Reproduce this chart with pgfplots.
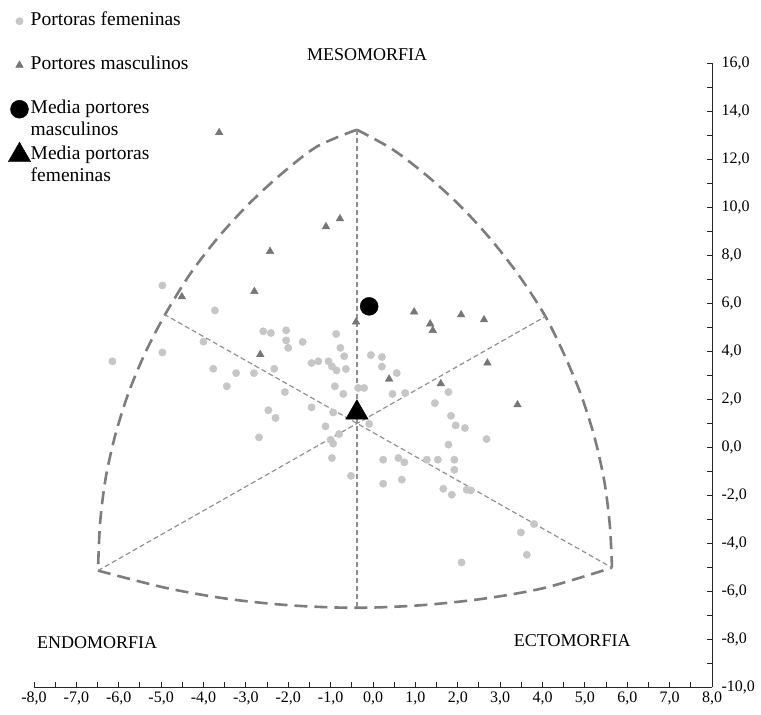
\documentclass[border=0pt]{standalone}
\usepackage{fontspec}
\setmainfont{Liberation Serif}
\usepackage{pgfplots}
\pgfplotsset{compat=1.18}
\definecolor{fem}{RGB}{198,198,198}
\definecolor{masc}{RGB}{118,118,118}
\definecolor{arcc}{RGB}{125,125,125}
\definecolor{thinc}{RGB}{145,145,145}
\pgfplotsset{mylegimg/.style={legend image code/.code={\draw[##1] plot coordinates {(0pt,0pt)};}}}
\begin{document}
\begin{tikzpicture}
\useasboundingbox (-34pt,-28pt) rectangle (727pt,687pt);
\begin{axis}[
  width=678pt, height=624pt, scale only axis,
  xmin=-8, xmax=8, ymin=-10, ymax=16,
  axis x line*=bottom, axis y line*=right,
  axis line style={black!85, line width=0.9pt},
  xtick={-8,-7,...,8}, minor x tick num=1,
  ytick={-10,-8,...,16}, minor y tick num=1,
  tick align=inside,
  major tick length=5pt, minor tick length=5pt,
  tick style={black!85, line width=0.9pt},
  tick label style={font=\fontsize{16}{19}\selectfont},
  /pgf/number format/assume math mode=true,
  /pgf/number format/.cd, fixed, fixed zerofill, precision=1, use comma,
  /pgfplots/.cd,
  yticklabel style={xshift=6pt},
  xticklabel style={yshift=-1pt},
  clip=false,
  legend style={at={(-0.0383,1.0849)}, anchor=north west, draw=none, fill=none,
    inner sep=0pt, row sep=0pt, column sep=0pt,
    font=\fontsize{19.5}{22}\selectfont,
    nodes={inner sep=0pt, text height=15pt, text depth=7pt}},
  legend cell align=left,
]
% somatochart frame
\addplot[forget plot, arcc, line width=2.6pt, dash pattern=on 13pt off 7pt, smooth] coordinates {
(-0.38,13.22) (-1.32,12.52) (-2.16,11.38) (-2.94,10.11) (-3.65,8.74) (-4.30,7.25) (-4.88,5.60) (-5.35,4.02) (-5.76,2.30) (-6.08,0.51) (-6.31,-1.31) (-6.44,-3.16) (-6.49,-5.15)};
\addplot[forget plot, arcc, line width=2.6pt, dash pattern=on 13pt off 7pt, smooth] coordinates {
(-0.38,13.22) (0.47,12.39) (1.31,11.25) (2.09,9.99) (2.80,8.61) (3.45,7.13) (4.05,5.50) (4.50,3.90) (4.91,2.17) (5.23,0.39) (5.46,-1.44) (5.59,-3.29) (5.64,-5.03)};
\addplot[forget plot, arcc, line width=2.6pt, dash pattern=on 13pt off 7pt, smooth] coordinates {
(-6.49,-5.15) (-4.89,-5.87) (-3.42,-6.33) (-1.93,-6.60) (-0.42,-6.70) (1.08,-6.60) (2.57,-6.33) (4.05,-5.87) (5.64,-5.03)};
\addplot[forget plot, color=thinc, line width=1.2pt, dash pattern=on 5pt off 3pt] coordinates {(-0.38,13.22) (-0.38,-6.70)};
\addplot[forget plot, color=thinc, line width=1.2pt, dash pattern=on 5pt off 3pt] coordinates {(-6.49,-5.15) (4.08,5.45)};
\addplot[forget plot, color=thinc, line width=1.2pt, dash pattern=on 5pt off 3pt] coordinates {(-4.93,5.53) (5.64,-5.03)};
% Portoras femeninas
\addplot[only marks, mark=*, mark size=3.7pt, color=fem, mylegimg] coordinates {
(-4.97,6.73) (-6.15,3.57) (-4.97,3.94) (-3.73,5.69) (-4.00,4.39) (-2.59,4.82) (-2.41,4.75) (-2.33,3.26)
(-3.77,3.26) (-3.23,3.08) (-2.81,3.08) (-3.45,2.53) (-2.47,1.53) (-2.30,1.21) (-2.69,0.40) (-2.05,4.86)
(-2.05,4.44) (-2.00,4.13) (-1.66,4.38) (-0.87,4.71) (-0.77,4.13) (-0.68,3.78) (-1.45,3.50) (-1.29,3.57)
(-1.05,3.57) (-0.97,3.36) (-0.86,3.19) (-0.64,3.25) (-0.05,3.83) (0.21,3.75) (0.21,3.35) (0.56,3.08)
(-0.90,2.53) (-0.70,2.21) (-0.35,2.46) (-0.21,2.46) (0.46,2.21) (0.76,2.25) (-2.08,2.29) (-1.45,1.65)
(-0.94,1.44) (-1.12,0.86) (-0.09,0.96) (-0.80,0.54) (-1.00,0.30) (-0.94,0.14) (-0.97,-0.46) (-0.52,-1.20)
(0.24,-0.53) (0.60,-0.46) (0.74,-0.64) (0.24,-1.53) (0.68,-1.36) (1.27,-0.53) (1.53,-0.53) (1.92,-0.53)
(1.92,-0.95) (1.78,0.10) (1.46,1.83) (1.78,2.29) (1.84,1.30) (1.95,0.90) (2.17,0.79) (2.68,0.33)
(1.66,-1.74) (1.86,-1.99) (2.21,-1.78) (2.31,-1.81) (3.80,-3.21) (3.49,-3.56) (3.63,-4.49) (2.09,-4.81)};
\addlegendentry{Portoras femeninas}
\addlegendimage{empty legend}\addlegendentry{}
% Portores masculinos
\addplot[only marks, mark=triangle*, mark size=4.4pt, color=masc, mylegimg] coordinates {
(-3.63,13.10) (-4.51,6.26) (-2.43,8.15) (-2.80,6.48) (-2.66,3.85) (-1.11,9.18) (-0.78,9.51) (-0.40,5.21)
(0.97,5.63) (1.35,5.13) (1.41,4.86) (2.08,5.51) (2.62,5.30) (2.70,3.50) (0.38,2.83) (1.60,2.64) (3.41,1.76)};
\addlegendentry{Portores masculinos}
\addlegendimage{empty legend}\addlegendentry{}
% Means
\addplot[only marks, mark=*, mark size=9pt, color=black, mylegimg] coordinates {(-0.09,5.86)};
\addlegendentry{Media portores}
\addlegendimage{empty legend}\addlegendentry{masculinos}
\addplot[only marks, mark=triangle*, mark size=13pt, color=black, mylegimg] coordinates {(-0.38,1.43)};
\addlegendentry{Media portoras}
\addlegendimage{empty legend}\addlegendentry{femeninas}
% labels
\node[font=\fontsize{18}{20}\selectfont] at (axis cs:-0.14,16.35) {MESOMORFIA};
\node[font=\fontsize{18}{20}\selectfont] at (axis cs:-6.51,-8.15) {ENDOMORFIA};
\node[font=\fontsize{18}{20}\selectfont] at (axis cs:4.70,-8.07) {ECTOMORFIA};
\end{axis}
\end{tikzpicture}
\end{document}
